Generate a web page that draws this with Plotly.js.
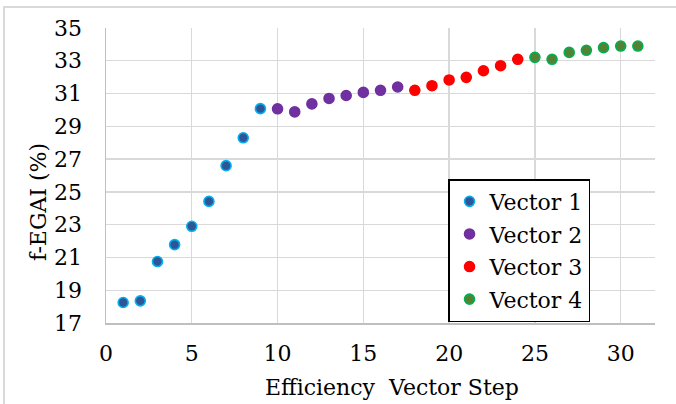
<!DOCTYPE html>
<html>
<head>
<meta charset="utf-8">
<script src="https://cdn.plot.ly/plotly-3.0.1.min.js"></script>
<style>
html,body{margin:0;padding:0;background:#fff;}
#frame{position:absolute;left:3px;top:6px;width:800px;height:800px;border:2px solid #d9d9d9;box-sizing:border-box;}
#chart{position:absolute;left:0;top:0;width:676px;height:404px;}
</style>
</head>
<body>
<div id="frame"></div>
<div id="chart"></div>
<script>
const v1x = [1,2,3,4,5,6,7,8,9];
const v1y = [18.25,18.35,20.75,21.78,22.9,24.42,26.6,28.3,30.08];
const v2x = [10,11,12,13,14,15,16,17];
const v2y = [30.07,29.88,30.37,30.7,30.88,31.07,31.2,31.4];
const v3x = [18,19,20,21,22,23,24];
const v3y = [31.2,31.48,31.83,31.99,32.39,32.7,33.09];
const v4x = [25,26,27,28,29,30,31];
const v4y = [33.21,33.09,33.51,33.64,33.8,33.9,33.9];
const names = ['Vector 1','Vector 2','Vector 3','Vector 4'];
const fills = ['#2F5597','#7030A0','#FF0000','#548235'];
const edges = ['#00B0F0','#7030A0','#FF0000','#00B050'];
const xs = [v1x,v2x,v3x,v4x], ys = [v1y,v2y,v3y,v4y];
const F = 'DejaVu Serif';
const traces = xs.map((x,i)=>({
  x:x, y:ys[i], type:'scatter', mode:'markers', name:names[i], legendgroup:'g'+i,
  marker:{size:10, color:fills[i], line:{color:edges[i], width:1.6}}
}));
const layout = {
  width:676, height:404,
  margin:{l:106, r:21, t:28, b:81},
  paper_bgcolor:'rgba(0,0,0,0)', plot_bgcolor:'rgba(0,0,0,0)',
  font:{family:F, size:22, color:'#000'},
  showlegend:true,
  legend:{x:0.623, y:0.488, xanchor:'left', yanchor:'top', bgcolor:'#fff',
    bordercolor:'#000', borderwidth:1.5, font:{family:F, size:22, color:'#000'},
    itemwidth:30, tracegroupgap:1},
  xaxis:{range:[0,32], dtick:5, tick0:0, showgrid:true, gridcolor:'#d9d9d9', gridwidth:1.3,
    showline:true, linecolor:'#bfbfbf', linewidth:1.5, zeroline:false, ticks:'',
    ticklabelstandoff:10, tickfont:{family:F,size:22,color:'#000'}},
  yaxis:{range:[17,35], dtick:2, tick0:17, showgrid:true, gridcolor:'#d9d9d9', gridwidth:1.3,
    showline:true, linecolor:'#bfbfbf', linewidth:1.5, zeroline:false, ticks:'',
    ticklabelstandoff:18, tickfont:{family:F,size:22,color:'#000'}},
  annotations:[
    {text:'f-EGAI (%)', xref:'paper', yref:'paper', x:-0.124, y:0.41,
    xanchor:'center', yanchor:'middle', textangle:-90, showarrow:false,
    font:{family:F,size:22,color:'#000'}},
    {text:'Efficiency  Vector Step', xref:'paper', yref:'paper', x:0.521, y:-0.217,
    xanchor:'center', yanchor:'middle', showarrow:false,
    font:{family:F,size:22,color:'#000'}}
  ]
};
Plotly.newPlot('chart', traces, layout, {displayModeBar:false, staticPlot:true});
</script>
</body>
</html>
